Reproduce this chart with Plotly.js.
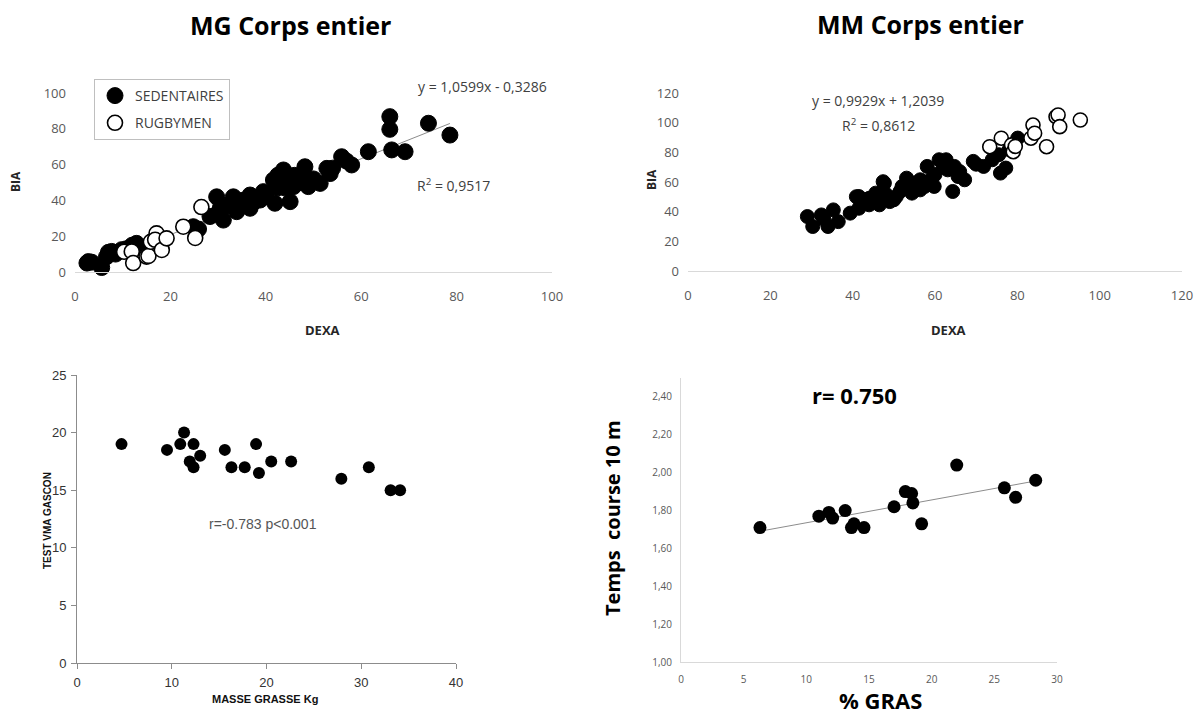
<!DOCTYPE html>
<html>
<head>
<meta charset="utf-8">
<script src="https://cdn.plot.ly/plotly-3.0.1.min.js"></script>
<style>html,body{margin:0;padding:0;background:#fff;}#chart{width:1197px;height:718px;}</style>
</head>
<body>
<div id="chart"></div>
<script>
// ---- Top-left: MG Corps entier (DEXA vs BIA) ----
var mgSedX = [2.5,3.5,2.8,5.6,6.6,7,7.7,8.5,9.8,10.8,12,12.9,13.5,24.8,25.9,28.3,29.7,30,31.1,30.5,32,33.2,33.9,34.6,35,36.7,36.7,37.5,38.8,39.5,40,41.6,41.9,42.5,42.5,43.7,44.4,44,45.1,45.8,46,47.2,48.2,48.9,47,50,51.4,52.8,53.5,54,55.9,56.9,58,61.5,66,66,66.4,69.2,74.1,78.6];
var mgSedY = [5,5.5,5.8,2.5,8.5,11,11.5,10,12.5,13,15,16,14,25.3,24,31,42,33,29,36,37,42,33.7,38.4,40,43,35.6,39,40.2,44.9,42,51.4,38.4,47,54,57,51.4,47,39.3,47.7,54,53.2,58.8,47.7,50,52,49.5,57.9,55,58,64.4,62,59.8,67.2,86.8,79.7,68.2,67.2,83.1,76.5];
var mgRugX = [10.3,11.9,12.2,15,15.4,15.9,17.1,16.8,18.2,19.2,22.7,25.2,26.5];
var mgRugY = [11.3,11.5,5,8.6,9,16.9,21.6,18,12.3,18.8,25.3,19,36.3];
var mgSlope = 1.0599, mgIntercept = -0.3286;

// ---- Top-right: MM Corps entier ----
var mmSedX = [29.0,30.3,32.4,34,35.3,36.5,33,39.4,41.5,41.5,43,44,45.6,46.5,47.7,49,48,50.6,51.5,52,53.1,54.4,54.8,56.4,56.4,57.5,58.9,58.1,59.8,61,62.7,63.1,64.3,64.7,65.6,67.2,69.3,71.8,73.9,75.5,75.9,77.2,78,80.1,42,44,46,48,50,52,55,60,62,66,70,40.9,47.4];
var mmSedY = [36.7,30,37.8,30,41.2,33.3,35,39,50.2,42.3,46,44.6,52.5,44.6,59.2,46.8,52,50.2,53.6,57,62.6,52.5,59.2,61.5,54.7,57,61.5,70.5,57,75,75,68.2,53.6,70.5,63.7,61.5,73.9,70.5,75,78.4,66,69.4,81.8,89.6,47,49,48,50,48,55,57,65,70,67,72,50.1,60.2];
var mmRugX = [73.3,76.1,78.6,79,79.5,83.3,83.8,84.2,87.1,89.4,89.9,90.3,95.3];
var mmRugY = [83.8,89.5,85,80.4,84,89.5,98.4,92.9,83.8,104,105.2,97.3,101.8];

// ---- Bottom-left: masse grasse vs test VMA Gascon ----
var vmaX = [4.7,9.5,10.9,11.3,12.3,11.9,12.3,13,15.6,16.3,17.7,18.9,19.2,20.5,22.6,27.9,30.8,33.1,34.1];
var vmaY = [19,18.5,19,20,19,17.5,17,18,18.5,17,17,19,16.5,17.5,17.5,16,17,15,15];

// ---- Bottom-right: % gras vs temps course 10 m ----
var grasX = [6.3,11.0,11.8,12.1,13.1,13.6,13.8,14.6,17.0,17.9,18.4,18.5,19.2,22.0,25.8,26.7,28.3];
var grasY = [1.71,1.77,1.79,1.76,1.80,1.71,1.73,1.71,1.82,1.90,1.89,1.84,1.73,2.04,1.92,1.87,1.96];

// helpers
var W = 1197, H = 718;
function px(x){return x/W;}
function py(y){return 1 - y/H;}
function minOf(a){return Math.min.apply(null,a);}
function maxOf(a){return Math.max.apply(null,a);}

// trendline for MG from displayed equation
var mgLX = [minOf(mgSedX), maxOf(mgSedX)];
var mgLY = mgLX.map(function(x){return mgSlope*x + mgIntercept;});

// least squares trendline for % gras
var n = grasX.length, mx = 0, my = 0;
for (var i=0;i<n;i++){mx+=grasX[i];my+=grasY[i];}
mx/=n; my/=n;
var sxy=0,sxx=0;
for (var i=0;i<n;i++){sxy+=(grasX[i]-mx)*(grasY[i]-my);sxx+=(grasX[i]-mx)*(grasX[i]-mx);}
var gb = sxy/sxx, ga = my - gb*mx;
var gLX = [minOf(grasX), maxOf(grasX)];
var gLY = gLX.map(function(x){return ga + gb*x;});

var calib = 'Open Sans, sans-serif';
var arial = 'Liberation Sans, Arial, sans-serif';

var traces = [
  {x: mgLX, y: mgLY, mode:'lines', line:{color:'#8c8c8c', width:1}, xaxis:'x', yaxis:'y', showlegend:false, hoverinfo:'skip'},
  {x: mgSedX, y: mgSedY, mode:'markers', name:'SEDENTAIRES', legendgroup:'a', cliponaxis:false,
   marker:{size:16, color:'#000', line:{color:'#000', width:1}}, xaxis:'x', yaxis:'y'},
  {x: mgRugX, y: mgRugY, mode:'markers', name:'RUGBYMEN', legendgroup:'b', cliponaxis:false,
   marker:{size:15, color:'#fff', line:{color:'#000', width:1.6}}, xaxis:'x', yaxis:'y'},

  {x: mmSedX, y: mmSedY, mode:'markers', showlegend:false, cliponaxis:false,
   marker:{size:14, color:'#000', line:{color:'#000', width:1}}, xaxis:'x2', yaxis:'y2'},
  {x: mmRugX, y: mmRugY, mode:'markers', showlegend:false, cliponaxis:false,
   marker:{size:14, color:'#fff', line:{color:'#000', width:1.6}}, xaxis:'x2', yaxis:'y2'},

  {x: vmaX, y: vmaY, mode:'markers', showlegend:false, cliponaxis:false,
   marker:{size:12, color:'#000'}, xaxis:'x3', yaxis:'y3'},

  {x: gLX, y: gLY, mode:'lines', line:{color:'#8c8c8c', width:1}, xaxis:'x4', yaxis:'y4', showlegend:false, hoverinfo:'skip'},
  {x: grasX, y: grasY, mode:'markers', showlegend:false, cliponaxis:false,
   marker:{size:13, color:'#000'}, xaxis:'x4', yaxis:'y4'}
];

var topTick = {family: calib, size: 13, color:'#595959'};
var ann = function(text, x, y, opts){
  var a = {text:text, x:px(x), y:py(y), xref:'paper', yref:'paper', showarrow:false, xanchor:'center', yanchor:'middle',
           font:{family:calib, size:14, color:'#404040'}};
  for (var k in opts){ a[k] = opts[k]; }
  return a;
};

var layout = {
  width: W, height: H,
  margin:{l:0,r:0,t:0,b:0},
  paper_bgcolor:'#fff', plot_bgcolor:'#fff',
  separators: ', ',
  showlegend: true,
  legend:{x:px(94), y:py(79), xanchor:'left', yanchor:'top', bgcolor:'#fff', bordercolor:'#bfbfbf', borderwidth:1,
          font:{family:calib, size:14, color:'#404040'}, tracegroupgap:6, traceorder:'grouped', itemwidth:30},
  xaxis:{domain:[px(75), px(552)], range:[0,100], dtick:20, anchor:'y', showgrid:false, zeroline:false,
         showline:true, linecolor:'#d9d9d9', ticks:'', tickfont:topTick, ticklabelstandoff:12},
  yaxis:{domain:[py(272), py(93)], range:[0,100], dtick:20, anchor:'x', showgrid:false, zeroline:false,
         showline:false, ticks:'', tickfont:topTick, ticklabelstandoff:8},
  xaxis2:{domain:[px(688), px(1182)], range:[0,120], dtick:20, anchor:'y2', showgrid:false, zeroline:false,
         showline:true, linecolor:'#d9d9d9', ticks:'', tickfont:topTick, ticklabelstandoff:12},
  yaxis2:{domain:[py(271), py(93)], range:[0,120], dtick:20, anchor:'x2', showgrid:false, zeroline:false,
         showline:false, ticks:'', tickfont:topTick, ticklabelstandoff:8},
  xaxis3:{domain:[px(77), px(456)], range:[0,40], dtick:10, anchor:'y3', showgrid:false, zeroline:false,
         showline:true, linecolor:'#8c8c8c', ticks:'outside', ticklen:5, tickcolor:'#8c8c8c',
         tickfont:{family:arial, size:13, color:'#333'}, ticklabelstandoff:2},
  yaxis3:{domain:[py(663), py(375)], range:[0,25], dtick:5, anchor:'x3', showgrid:false, zeroline:false,
         showline:true, linecolor:'#8c8c8c', ticks:'outside', ticklen:5, tickcolor:'#8c8c8c',
         tickfont:{family:arial, size:13, color:'#333'}, ticklabelstandoff:2},
  xaxis4:{domain:[px(681), px(1057)], range:[0,30], dtick:5, anchor:'y4', showgrid:false, zeroline:false,
         showline:true, linecolor:'#d9d9d9', ticks:'', tickfont:{family:calib, size:10, color:'#595959'}, ticklabelstandoff:8},
  yaxis4:{domain:[py(662), py(378)], range:[1,2.5], dtick:0.2, tick0:1, tickformat:'.2f', anchor:'x4', showgrid:false, zeroline:false,
         showline:true, linecolor:'#d9d9d9', ticks:'', tickfont:{family:calib, size:10, color:'#595959'}, ticklabelstandoff:6},
  annotations:[
    ann('<b>MG Corps entier</b>', 290, 25, {font:{family:calib, size:25, color:'#000'}}),
    ann('<b>MM Corps entier</b>', 920, 24, {font:{family:calib, size:25, color:'#000'}}),
    ann('<b>BIA</b>', 16, 182, {textangle:-90, font:{family:calib, size:12, color:'#262626'}}),
    ann('<b>DEXA</b>', 322, 330, {font:{family:calib, size:13, color:'#262626'}}),
    ann('<b>BIA</b>', 651, 180, {textangle:-90, font:{family:calib, size:12, color:'#262626'}}),
    ann('<b>DEXA</b>', 948, 330, {font:{family:calib, size:13, color:'#262626'}}),
    ann('y = 1,0599x - 0,3286', 482, 87, {}),
    ann('R<sup>2</sup> = 0,9517', 453, 185, {}),
    ann('y = 0,9929x + 1,2039', 878, 100, {}),
    ann('R<sup>2</sup> = 0,8612', 878, 125, {}),
    ann('<b>TEST VMA GASCON</b>', 47, 521, {textangle:-90, font:{family:arial, size:10, color:'#111'}}),
    ann('<b>MASSE GRASSE Kg</b>', 265, 699, {font:{family:arial, size:11, color:'#111'}}),
    ann('r=-0.783 p<0.001', 263, 524, {font:{family:arial, size:14, color:'#555'}}),
    ann('<b>Temps  course 10 m</b>', 612, 518, {textangle:-90, font:{family:calib, size:20, color:'#000'}}),
    ann('<b>% GRAS</b>', 880, 700, {font:{family:calib, size:22, color:'#000'}}),
    ann('<b>r= 0.750</b>', 854, 395, {font:{family:calib, size:22, color:'#000'}})
  ]
};

Plotly.newPlot('chart', traces, layout, {staticPlot:true, displayModeBar:false});
</script>
</body>
</html>
